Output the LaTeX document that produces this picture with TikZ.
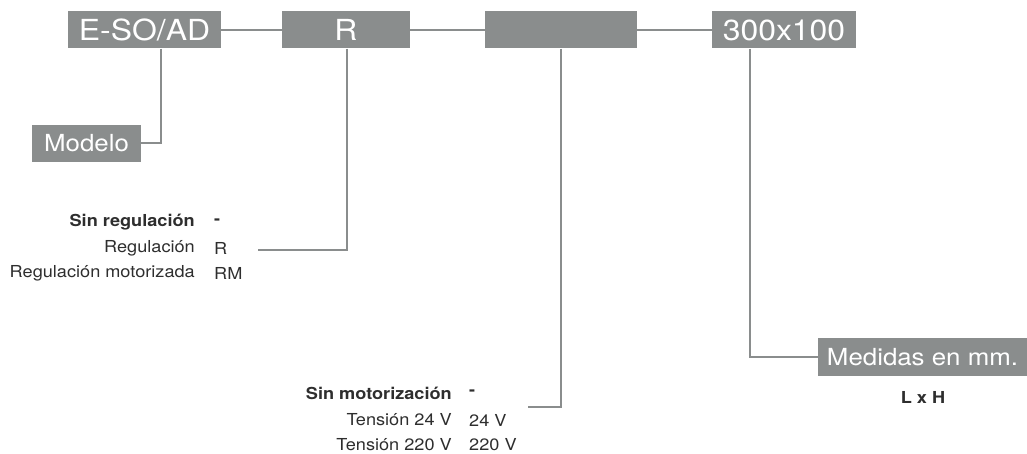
\documentclass[tikz,border=0pt]{standalone}
\usepackage{fontspec}
\setmainfont[FakeStretch=1.1]{TeX Gyre Heros}
\usepackage{tikz}
\usetikzlibrary{calc}
\definecolor{boxgray}{HTML}{8A8D8D}
\definecolor{txtgray}{HTML}{2E2E2E}
\tikzset{
  codebox/.style={fill=boxgray,text=white,inner sep=0pt,minimum height=37pt,
    font=\fontsize{29}{31}\selectfont},
  namebox/.style={codebox,font=\fontsize{23.5}{26}\selectfont},
  link/.style={draw=boxgray,line width=2pt},
  opt/.style={text=txtgray,inner sep=0pt,font=\fontsize{16.5}{18}\selectfont},
  optb/.style={opt,font=\fontsize{16.5}{18}\selectfont\bfseries},
}
\begin{document}
\begin{tikzpicture}[x=1pt,y=-1pt]
   \useasboundingbox (0,0) rectangle (1027,454);

   % cajas del codigo
   \node (eso) at (144.5,30) [codebox,minimum width=153pt]{E-SO/AD};
   \node (reg) at (346,30) [codebox,minimum width=128pt]{R};
   \node (mot) at (561,30) [codebox,minimum width=152pt]{};
   \node (dim) at (784,30) [codebox,minimum width=144pt]{300x100};
   \node (modelo) at (86.5,143.5) [namebox,minimum width=109pt]{Modelo};
   \node (medidas) at (922.5,357) [namebox,minimum width=209pt,minimum height=38pt]{Medidas en mm.};

   % regulacion
   \node (sinreg) at (195,222) [optb,anchor=east]{Sin regulación};
   \node (sinregv) at (214,222) [optb,anchor=west]{-};
   \node (regul) at (195,248) [opt,anchor=east]{Regulación};
   \node (regulv) at (214,248) [opt,anchor=west]{R};
   \node (regmot) at (195,273) [opt,anchor=east]{Regulación motorizada};
   \node (regmotv) at (214,273) [opt,anchor=west]{RM};
   \coordinate (regend) at (258,250);

   % motorizacion
   \node (sinmot) at (452,393) [optb,anchor=east]{Sin motorización};
   \node (sinmotv) at (469,393) [optb,anchor=west]{-};
   \node (t24) at (452,420) [opt,anchor=east]{Tensión 24 V};
   \node (t24v) at (469,420) [opt,anchor=west]{24 V};
   \node (t220) at (452,445) [opt,anchor=east]{Tensión 220 V};
   \node (t220v) at (469,445) [opt,anchor=west]{220 V};
   \coordinate (motend) at (528,407);

   % medidas
   \node (lxh) at (923,397) [optb]{L x H};

   % conectores
   \draw [link] (eso) -- (reg);
   \draw [link] (reg) -- (mot);
   \draw [link] (mot) -- (dim);
   \draw [link] ([xshift=16pt]eso.south) |- (modelo.east);
   \draw [link] ([xshift=1pt]reg.south) |- (regend);
   \draw [link] (mot.south) |- (motend);
   \draw [link] ([xshift=-34pt]dim.south) |- (medidas.west);
\end{tikzpicture}
\end{document}
